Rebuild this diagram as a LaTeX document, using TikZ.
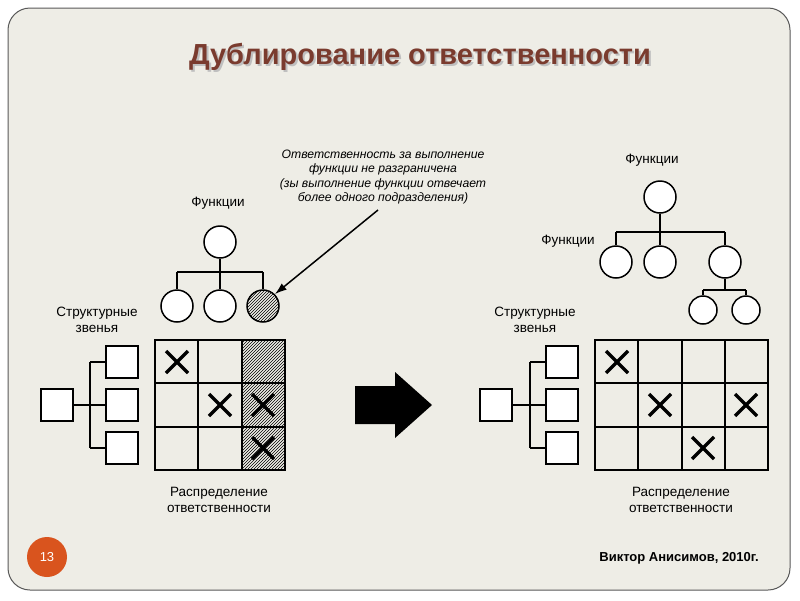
\documentclass[tikz,border=0pt]{standalone}
\usepackage{fontspec}
\setmainfont{Liberation Sans}
\usetikzlibrary{patterns,arrows.meta}
\definecolor{bg}{HTML}{EEEDE6}
\definecolor{titlec}{HTML}{7A3B2E}
\definecolor{badge}{HTML}{D9541E}
\begin{document}
\begin{tikzpicture}[x=1pt,y=-1pt,
  circ/.style={draw,line width=1.5pt,circle,minimum size=32pt,inner sep=0pt,fill=white},
  scirc/.style={draw,line width=1.5pt,circle,minimum size=28pt,inner sep=0pt,fill=white},
  sbox/.style={draw,line width=1.5pt,minimum size=32pt,inner sep=0pt,fill=white},
  ln/.style={line width=1.5pt},
  lbl/.style={font=\fontsize{13.5}{16}\selectfont,align=center},
  xm/.style={line width=3.5pt}]
\useasboundingbox (0,0) rectangle (800,600);
\fill[white] (0,0) rectangle (800,600);
\draw[fill=bg,draw=gray!70!black,line width=1pt,rounded corners=22pt] (8,8) rectangle (790,590);
\node[text=black!25,font=\fontsize{29}{34}\selectfont\bfseries] at (422,59) {Дублирование ответственности};
\node[text=titlec,font=\fontsize{29}{34}\selectfont\bfseries] (title) at (420,57) {Дублирование ответственности};
% ---------- left
\node[circ] (lt) at (220,242) {};
\node[circ] (l1) at (177,306) {};
\node[circ] (l2) at (220,306) {};
\node[circ,pattern=north east lines] (l3) at (263,306) {};
\draw[ln] (lt.south) -- (220,272) (177,272) -- (263,272);
\draw[ln] (177,272) -- (l1.north) (220,272) -- (l2.north) (263,272) -- (l3.north);
\fill[pattern=north east lines] (242,340) rectangle (285,470);
\draw[line width=2pt] (155,340) rectangle (285,470)
  (198.3,340) -- (198.3,470) (241.7,340) -- (241.7,470)
  (155,383.3) -- (285,383.3) (155,426.7) -- (285,426.7);
\foreach \p in {(177,362),(220,405),(263,405),(263,448)}{
  \draw[xm] \p ++(-11,-11) -- ++(22,22) \p ++(11,-11) -- ++(-22,22);}
\node[sbox] (lb1) at (122,362) {};
\node[sbox] (lb2) at (122,405) {};
\node[sbox] (lb3) at (122,448) {};
\node[sbox] (lb0) at (57,405) {};
\draw[ln] (lb0.east) -- (lb2.west) (90,362) -- (90,448) (90,362) -- (lb1.west) (90,448) -- (lb3.west);
\node[lbl] (lf) at (218,203) {Функции};
\node[lbl] (ls) at (97,320) {Структурные\\звенья};
\node[lbl] (lr) at (219,500) {Распределение\\ответственности};
\node[font=\fontsize{12.2}{14.5}\selectfont\itshape,align=center] (note) at (383,177)
 {Ответственность за выполнение\\функции не разграничена\\(зы выполнение функции отвечает\\более одного подразделения)};
\draw[line width=1.5pt,-{Latex[length=12pt,width=8pt]}] (378,210) -- (l3.north east);
% ---------- big arrow
\fill (355,386) -- (395,386) -- (395,372) -- (432,405) -- (395,438) -- (395,424) -- (355,424) -- cycle;
% ---------- right
\node[circ] (rt) at (660,197) {};
\node[circ] (r1) at (616,262) {};
\node[circ] (r2) at (660,262) {};
\node[circ] (r3) at (725,262) {};
\node[scirc] (r4) at (703,310) {};
\node[scirc] (r5) at (746,310) {};
\draw[ln] (rt.south) -- (660,232) (616,232) -- (725,232);
\draw[ln] (616,232) -- (r1.north) (660,232) -- (r2.north) (725,232) -- (r3.north);
\draw[ln] (r3.south) -- (725,290) (703,290) -- (746,290) (703,290) -- (r4.north) (746,290) -- (r5.north);
\draw[line width=2pt] (595,340) rectangle (768,470)
  (638.3,340) -- (638.3,470) (681.5,340) -- (681.5,470) (724.8,340) -- (724.8,470)
  (595,383.3) -- (768,383.3) (595,426.7) -- (768,426.7);
\foreach \p in {(617,362),(660,405),(746,405),(703,448)}{
  \draw[xm] \p ++(-11,-11) -- ++(22,22) \p ++(11,-11) -- ++(-22,22);}
\node[sbox] (rb1) at (562,362) {};
\node[sbox] (rb2) at (562,405) {};
\node[sbox] (rb3) at (562,448) {};
\node[sbox] (rb0) at (496,405) {};
\draw[ln] (rb0.east) -- (rb2.west) (530,362) -- (530,448) (530,362) -- (rb1.west) (530,448) -- (rb3.west);
\node[lbl] (rf1) at (652,160) {Функции};
\node[lbl] (rf2) at (568,241) {Функции};
\node[lbl] (rs) at (535,320) {Структурные\\звенья};
\node[lbl] (rr) at (681,500) {Распределение\\ответственности};
% ---------- footer
\node[circle,fill=badge,minimum size=40pt,inner sep=0pt,text=white,font=\fontsize{13}{15}\selectfont] (badge) at (47,557) {13};
\node[font=\fontsize{13}{15}\selectfont\bfseries] (author) at (679,558) {Виктор Анисимов, 2010г.};
\end{tikzpicture}
\end{document}
